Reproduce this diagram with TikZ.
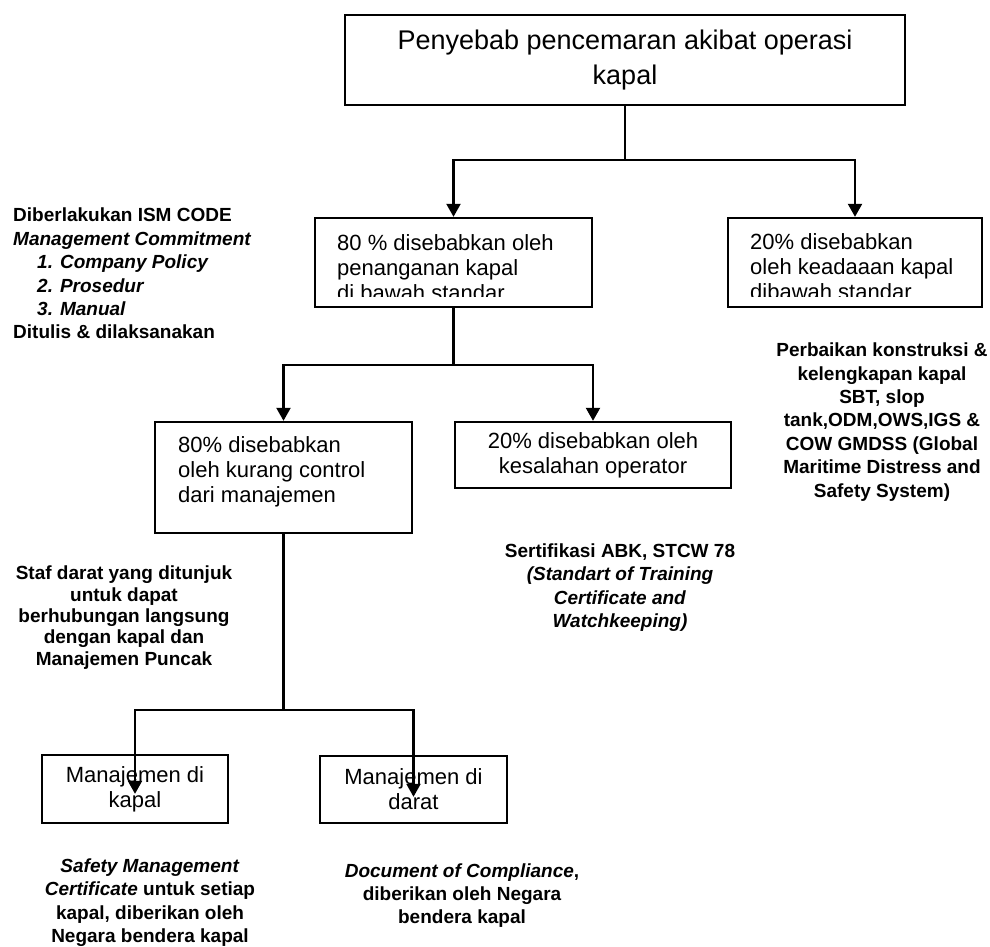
\documentclass[tikz,border=0pt]{standalone}
\usepackage{fontspec}
\setmainfont{Liberation Sans}
\usetikzlibrary{arrows.meta}

\newcommand{\fjudul}{\fontsize{27}{35}\selectfont}
\newcommand{\fkotak}{\fontsize{22}{25}\selectfont}
\newcommand{\fket}{\fontsize{19}{23.4}\selectfont\bfseries}

\tikzset{
  kotak/.style={draw, line width=2.4pt, inner sep=0pt},
  isi/.style={font=\fkotak, align=left, inner sep=0pt},
  ket/.style={font=\fket, align=center, inner sep=0pt},
  garis/.style={line width=2.2pt},
  panah/.style={line width=2.2pt, -{Triangle[width=14pt,length=13pt]}},
}

\begin{document}
\begin{tikzpicture}[x=1pt, y=-1pt]
  \fill[white] (0,0) rectangle (990,946);
  \useasboundingbox (0,0) rectangle (990,946);

  % Kotak utama
  \node[kotak, font=\fjudul, align=center, minimum width=560pt, minimum height=90pt] (utama) at (625,60) {Penyebab pencemaran akibat operasi\\kapal};

  % Tingkat kedua (80% / 20%)
  \node[kotak, minimum width=277pt, minimum height=89pt] (tangan) at (453.5,262.5) {};
  \node[kotak, minimum width=254pt, minimum height=89pt] (keadaan) at (855,262.5) {};
  % baris terakhir terpotong oleh kotak
  \begin{scope}
    \clip (tangan.north west) rectangle ([yshift=12pt]tangan.south east);
    \node[isi, anchor=west] (tangantxt) at (337,268) {80 \% disebabkan oleh\\penanganan kapal\\di bawah standar};
  \end{scope}
  \begin{scope}
    \clip (keadaan.north west) rectangle ([yshift=12pt]keadaan.south east);
    \node[isi, anchor=west] (keadaantxt) at (750,267) {20\% disebabkan\\oleh keadaaan kapal\\dibawah standar};
  \end{scope}

  % Tingkat ketiga
  \node[kotak, minimum width=257pt, minimum height=111pt] (kontrol) at (283.5,477.5) {};
  \node[isi, anchor=west] (kontroltxt) at (178,472) {80\% disebabkan\\oleh kurang control\\dari manajemen};
  \node[kotak, font=\fkotak, align=center, minimum width=276pt, minimum height=66pt] (operator) at (593,455) {20\% disebabkan oleh\\kesalahan operator};

  % Tingkat keempat
  \node[kotak, font=\fkotak, align=center, minimum width=186pt, minimum height=68pt] (dikapal) at (135,789) {Manajemen di\\kapal};
  \node[kotak, font=\fkotak, align=center, minimum width=187pt, minimum height=67pt] (didarat) at (413.5,789.5) {Manajemen di\\darat};

  % Garis penghubung
  \coordinate (cabang1) at (625,160);
  \draw[garis] (utama.south) -- (cabang1);
  \draw[panah] (cabang1) -| (tangan.north);
  \draw[panah] (cabang1) -| (keadaan.north);

  \coordinate (cabang2) at (tangan.south |- 0,365);
  \draw[garis] (tangan.south) -- (cabang2);
  \draw[panah] (cabang2) -| (kontrol.north);
  \draw[panah] (cabang2) -| (operator.north);

  \coordinate (cabang3) at (kontrol.south |- 0,710);
  \draw[garis] (kontrol.south) -- (cabang3);
  \draw[panah] (cabang3) -| ([yshift=-40pt]dikapal.north);
  \draw[panah] (cabang3) -| ([yshift=-42pt]didarat.north);

  % Keterangan
  \node[ket, align=left, anchor=north west] (ism) at (13,208) {Diberlakukan ISM CODE\\\textit{Management Commitment}\\\hspace*{24pt}\textit{1. Company Policy}\\\hspace*{24pt}\textit{2. Prosedur}\\\hspace*{24pt}\textit{3. Manual}\\Ditulis \& dilaksanakan};
  \node[ket] (perbaikan) at (882,422) {Perbaikan konstruksi \&\\kelengkapan kapal\\SBT, slop\\tank,ODM,OWS,IGS \&\\COW GMDSS (Global\\Maritime Distress and\\Safety System)};
  \node[ket] (sertifikasi) at (620,587.5) {Sertifikasi ABK, STCW 78\\\textit{(Standart of Training}\\\textit{Certificate and}\\\textit{Watchkeeping)}};
  \node[ket, font=\fontsize{19}{21.3}\selectfont\bfseries] (staf) at (124,617.5) {Staf darat yang ditunjuk\\untuk dapat\\berhubungan langsung\\dengan kapal dan\\Manajemen Puncak};
  \node[ket] (smc) at (150,902.5) {\textit{Safety Management}\\\textit{Certificate} untuk setiap\\kapal, diberikan oleh\\Negara bendera kapal};
  \node[ket] (doc) at (462,895.5) {\textit{Document of Compliance},\\diberikan oleh Negara\\bendera kapal};
\end{tikzpicture}
\end{document}
